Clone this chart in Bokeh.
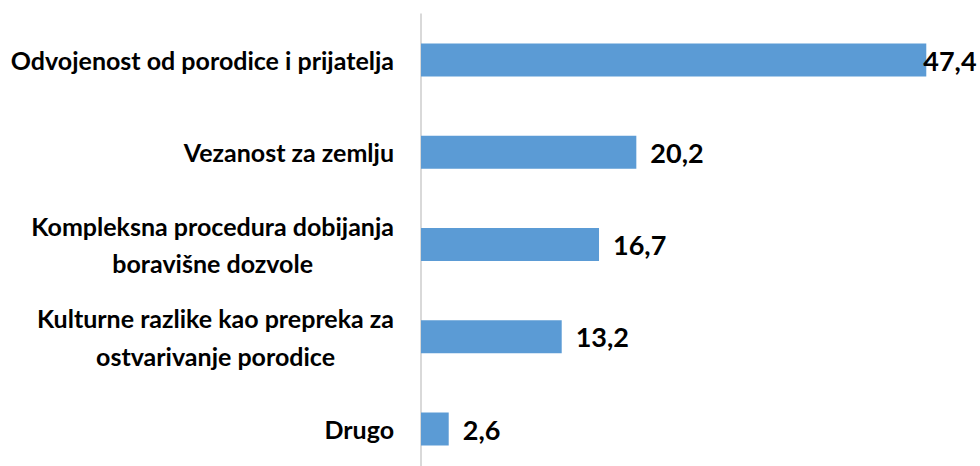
from bokeh.plotting import figure
from bokeh.models import ColumnDataSource, Range1d
from bokeh.core.properties import value
from bokeh.embed import file_html
from bokeh.resources import INLINE

categories = [
    "Odvojenost od porodice i prijatelja",
    "Vezanost za zemlju",
    "Kompleksna procedura dobijanja\nboravišne dozvole",
    "Kulturne razlike kao prepreka za\nostvarivanje porodice",
    "Drugo",
]
values = [47.4, 20.2, 16.7, 13.2, 2.6]
value_labels = ["47,4", "20,2", "16,7", "13,2", "2,6"]

W, H = 980, 466
zero_px = 420.5
px_per_unit = 10.66
first_center = 59.5
step = 92.25

x_start = -zero_px / px_per_unit
x_end = (W - zero_px) / px_per_unit
y_top = -first_center / step
y_bottom = (H - first_center) / step

pos = list(range(len(categories)))
max_v = max(values)
offsets = [-3 if v == max_v else 14 for v in values]

src = ColumnDataSource(dict(y=pos, v=values, cat=categories, lab=value_labels,
                            zero=[0] * len(values), off=offsets))

p = figure(width=W, height=H, output_backend="svg", toolbar_location=None,
           x_range=Range1d(x_start, x_end), y_range=Range1d(y_bottom, y_top),
           x_axis_location=None, y_axis_location=None, min_border=0)
p.grid.visible = False
p.outline_line_color = None
p.background_fill_color = "white"
p.border_fill_color = "white"

# vertical axis line
p.segment(x0=[0], x1=[0], y0=[y_top + 13 / step], y1=[y_bottom], line_color="#D9D9D9", line_width=2)

p.hbar(y="y", left="zero", right="v", height=33 / step, source=src,
       fill_color="#5B9BD5", line_color=None)

p.text(x="zero", y="y", text="cat", source=src, x_offset=-27,
       text_font=value("Lato"), text_font_style="bold", text_font_size="25px",
       text_color="black", text_align="center", anchor="center_right",
       text_line_height=1.26)

p.text(x="v", y="y", text="lab", source=src, x_offset="off", y_offset=1,
       text_font=value("Lato"), text_font_style="bold", text_font_size="27px",
       text_color="black", text_align="left", text_baseline="middle")

open("out.html", "w").write(file_html(p, INLINE))
